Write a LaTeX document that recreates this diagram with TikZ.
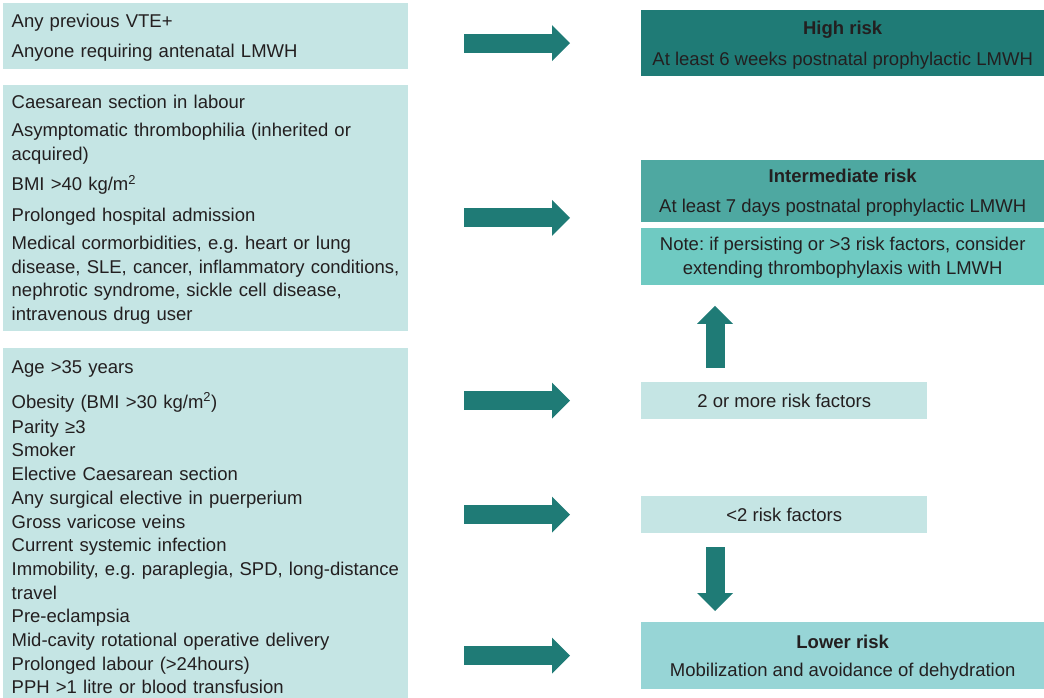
\documentclass[tikz,border=0pt]{standalone}
\usepackage{fontspec}
\setmainfont{Liberation Sans}
\usepackage{xcolor}
\usetikzlibrary{arrows.meta}
\usetikzlibrary{positioning}

\definecolor{txt}{HTML}{231F20}
\definecolor{pale}{HTML}{C5E5E4}
\definecolor{high}{HTML}{1F7B76}
\definecolor{inter}{HTML}{4EA8A1}
\definecolor{notefill}{HTML}{6FCAC2}
\definecolor{lower}{HTML}{97D5D6}

\begin{document}
\begin{tikzpicture}[x=1pt,y=-1pt,
	every node/.style={font=\fontsize{18.5}{23.7}\selectfont\frenchspacing, text=txt, inner sep=0pt},
	factors/.style={fill=pale, anchor=north west, inner xsep=8.5pt, text width=388pt, align=left, text height=17pt},
	outcome/.style={anchor=north west, minimum width=403pt, align=center, text depth=0pt},
	count/.style={fill=pale, anchor=north west, minimum width=286pt, minimum height=37pt},
	bigarrow/.style={draw=high, line width=19pt, -{Triangle[width=36pt,length=18pt,line width=0pt]}}]
			\useasboundingbox (0,0) rectangle (1044,698);
			% risk factors
			\node[factors, minimum height=66pt] (vte) at (3,3) {Any previous VTE+\\[6.3pt]Anyone requiring antenatal LMWH};
			\node[factors, minimum height=246pt] (mid) at (3,85) {Caesarean section in labour\\[4.3pt]
				Asymptomatic thrombophilia (inherited or\\acquired)\\[6.3pt]
				BMI >40 kg/m\textsuperscript{2}\\[7.3pt]
				Prolonged hospital admission\\[4.3pt]
				Medical cormorbidities, e.g. heart or lung\\disease, SLE, cancer, inflammatory conditions,\\nephrotic syndrome, sickle cell disease,\\intravenous drug user};
			\node[factors, minimum height=354pt] (low) at (3,348) {Age >35 years\\[11.3pt]
				Obesity (BMI >30 kg/m\textsuperscript{2})\\[1.3pt]
				Parity ≥3\\Smoker\\Elective Caesarean section\\Any surgical elective in puerperium\\Gross varicose veins\\Current systemic infection\\
				Immobility, e.g. paraplegia, SPD, long-distance\\travel\\Pre-eclampsia\\Mid-cavity rotational operative delivery\\
				Prolonged labour (>24hours)\\PPH >1 litre or blood transfusion};
			% outcomes
			\node[outcome, fill=high, minimum height=66pt] (hrisk) at (641,10) {\textbf{High risk}\\[7.3pt]At least 6 weeks postnatal prophylactic LMWH};
			\node[outcome, fill=inter, minimum height=62pt] (irisk) at (641,160) {\textbf{Intermediate risk}\\[6.3pt]At least 7 days postnatal prophylactic LMWH};
			\node[outcome, fill=notefill, minimum height=57pt, below=5pt of irisk.south west, anchor=north west] (note) {Note: if persisting or >3 risk factors, consider\\extending thrombophylaxis with LMWH};
			\node[count] (more) at (641,382) {2 or more risk factors};
			\node[count] (less) at (641,496) {<2 risk factors};
			\node[outcome, fill=lower, minimum height=67pt] (lrisk) at (641,622) {\textbf{Lower risk}\\[4.3pt]Mobilization and avoidance of dehydration};
			% arrows
			\coordinate (imid) at ([yshift=4.5pt]irisk.south west);
			\draw[bigarrow, shorten <=56pt, shorten >=71pt] (mid.east |- imid) -- (imid);
			\foreach \a/\b in {vte/hrisk, low/more, low/less, low/lrisk}
				\draw[bigarrow, shorten <=56pt, shorten >=71pt] (\a.east |- \b.west) -- (\b.west);
			\coordinate (upfoot) at ([xshift=74pt]more.north west);
			\draw[bigarrow, shorten <=14pt, shorten >=21pt] (upfoot) -- (upfoot |- note.south);
			\coordinate (downtop) at ([xshift=74pt]less.south west);
			\draw[bigarrow, shorten <=14pt, shorten >=11pt] (downtop) -- (downtop |- lrisk.north);
		\end{tikzpicture}
\end{document}
